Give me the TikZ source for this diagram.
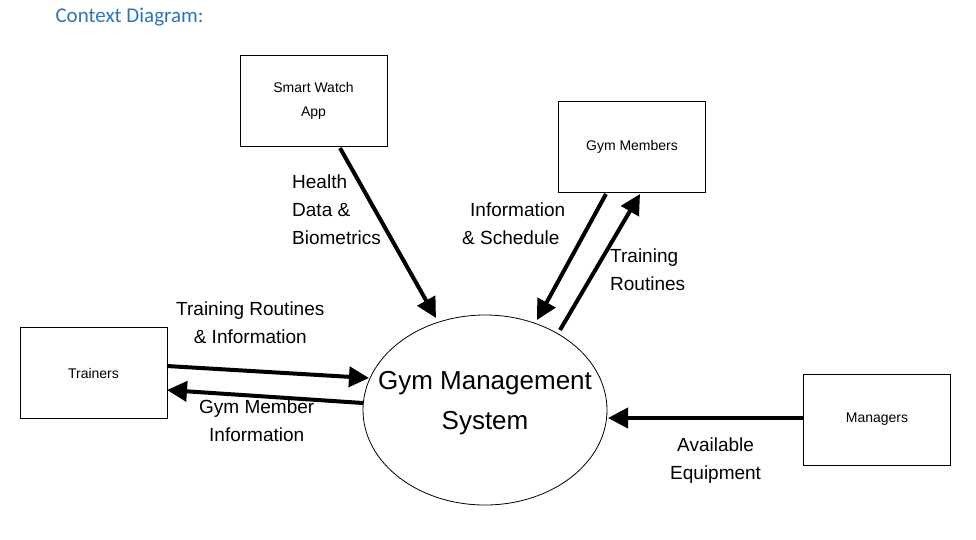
\documentclass[tikz,border=0pt]{standalone}
\usepackage{fontspec}
\setmainfont{Liberation Sans}
\newfontfamily\titlefont{Carlito}
\usetikzlibrary{shapes.geometric,arrows.meta}
\definecolor{titleblue}{HTML}{2E74B5}
\begin{document}
\begin{tikzpicture}[x=1pt,y=-1pt,
  box/.style={draw,line width=0.8pt,minimum width=147pt,minimum height=91pt,inner sep=0pt,font=\fontsize{14}{24}\selectfont,align=center},
  flow/.style={line width=4pt,-{Triangle[length=20pt,width=20pt]}},
  lbl/.style={font=\fontsize{19}{28}\selectfont,align=left,inner sep=0pt}]
\useasboundingbox (0,0) rectangle (976,539);
\node[anchor=west,text=titleblue,font=\titlefont\fontsize{21}{24}\selectfont] (title) at (52,17) {Context Diagram:};
\node[box] (sw) at (313.5,101) {Smart Watch\\App};
\node[box] (gm) at (632,146.5) {Gym Members};
\node[box] (tr) at (93.5,373) {Trainers};
\node[box] (mg) at (877,419.5) {Managers};
\node[draw,ellipse,line width=0.8pt,minimum width=244pt,minimum height=190pt,inner sep=0pt] (gms) at (485,410) {};
\node[font=\fontsize{26}{40}\selectfont,align=center] (gmst) at (485,403) {Gym Management\\System};
\coordinate (a1) at (340,148); \coordinate (a2) at (436,318);
\draw[flow] (a1) -- (a2);
\coordinate (b1) at (606,194); \coordinate (b2) at (537,320);
\draw[flow] (b1) -- (b2);
\coordinate (c1) at (560,330); \coordinate (c2) at (640,194);
\draw[flow] (c1) -- (c2);
\coordinate (d1) at (167,366); \coordinate (d2) at (369,378);
\draw[flow] (d1) -- (d2);
\coordinate (e1) at (363,403); \coordinate (e2) at (167,390);
\draw[flow] (e1) -- (e2);
\coordinate (f1) at (804,418); \coordinate (f2) at (608,418);
\draw[flow] (f1) -- (f2);
\node[lbl,anchor=north west] (l1) at (292,175) {Health\\Data \&\\Biometrics};
\node[lbl,anchor=north west] (l2) at (462,203) {\hspace*{8pt}Information\\\& Schedule};
\node[lbl,anchor=north west] (l3) at (610,249) {Training\\Routines};
\node[lbl,anchor=north west,align=center] (l4) at (176,302) {Training Routines\\\& Information};
\node[lbl,anchor=north west,align=center] (l5) at (199,400) {Gym Member\\Information};
\node[lbl,anchor=north west,align=center] (l6) at (670,438) {Available\\Equipment};
\end{tikzpicture}
\end{document}
